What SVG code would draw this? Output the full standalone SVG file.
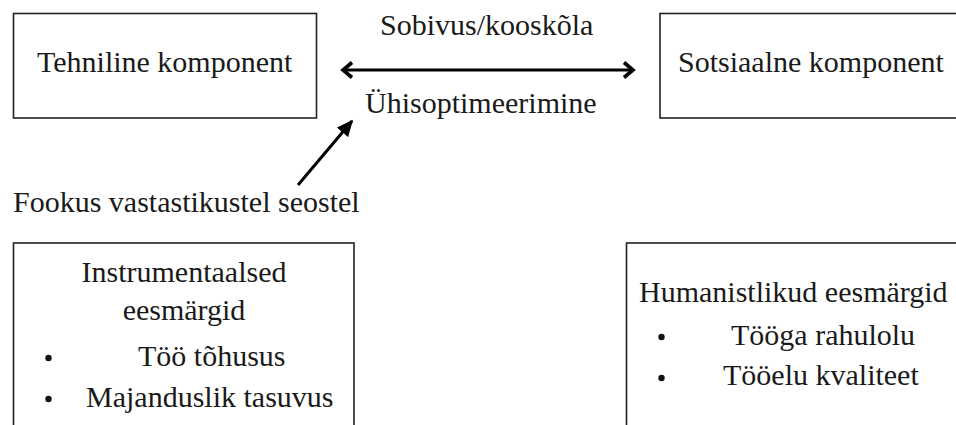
<svg xmlns="http://www.w3.org/2000/svg" width="956" height="425" viewBox="0 0 956 425">
<style>
.box{fill:#fff;stroke:#222;stroke-width:1.6}
.t{font-family:"Liberation Serif","Times New Roman",serif;font-size:30px;fill:#1a1a1a}
.c{text-anchor:middle}
.conn{stroke:#000;stroke-width:3;fill:none}
.dot{fill:#111}
</style>
<defs>
<marker id="chev" viewBox="0 0 20 20" refX="16" refY="10" markerWidth="20" markerHeight="20" orient="auto-start-reverse" markerUnits="userSpaceOnUse">
<path d="M7,2.5 L16,10 L7,17.5" fill="none" stroke="#000" stroke-width="3.6" stroke-linejoin="miter"/>
</marker>
<marker id="tri" viewBox="0 0 10 10" refX="9" refY="5" markerWidth="5.5" markerHeight="5.5" orient="auto" markerUnits="strokeWidth">
<path d="M0,0.5 L10,5 L0,9.5 Z" fill="#000"/>
</marker>
</defs>
<rect width="956" height="425" fill="#fff"/>
<g id="tehniline">
<rect class="box" x="13.5" y="13.5" width="303" height="104.5"/>
<text class="t" x="37" y="72">Tehniline komponent</text>
</g>
<g id="sotsiaalne">
<rect class="box" x="660" y="13.5" width="320" height="104.5"/>
<text class="t" x="678" y="72">Sotsiaalne komponent</text>
</g>
<g id="instrumentaalsed">
<rect class="box" x="13.5" y="243" width="340.5" height="200"/>
<text class="t c" x="184" y="282">Instrumentaalsed</text>
<text class="t c" x="184" y="320">eesmärgid</text>
<circle class="dot" cx="48.5" cy="358" r="3.2"/>
<text class="t" x="138" y="366">Töö tõhusus</text>
<circle class="dot" cx="48.5" cy="399" r="3.2"/>
<text class="t" x="86" y="407">Majanduslik tasuvus</text>
</g>
<g id="humanistlikud">
<rect class="box" x="626.5" y="243" width="350" height="200"/>
<text class="t" x="639" y="302">Humanistlikud eesmärgid</text>
<circle class="dot" cx="661.5" cy="337" r="3.2"/>
<text class="t" x="731" y="345">Tööga rahulolu</text>
<circle class="dot" cx="661.5" cy="378" r="3.2"/>
<text class="t" x="723" y="385">Tööelu kvaliteet</text>
</g>
<g id="labels">
<text class="t" x="380" y="35">Sobivus/kooskõla</text>
<text class="t" x="365" y="113">Ühisoptimeerimine</text>
<text class="t" x="13" y="212">Fookus vastastikustel seostel</text>
</g>
<g id="connectors">
<line class="conn" x1="343" y1="70" x2="633" y2="70" marker-start="url(#chev)" marker-end="url(#chev)"/>
<line class="conn" x1="298" y1="185" x2="352" y2="121" marker-end="url(#tri)"/>
</g>
</svg>
